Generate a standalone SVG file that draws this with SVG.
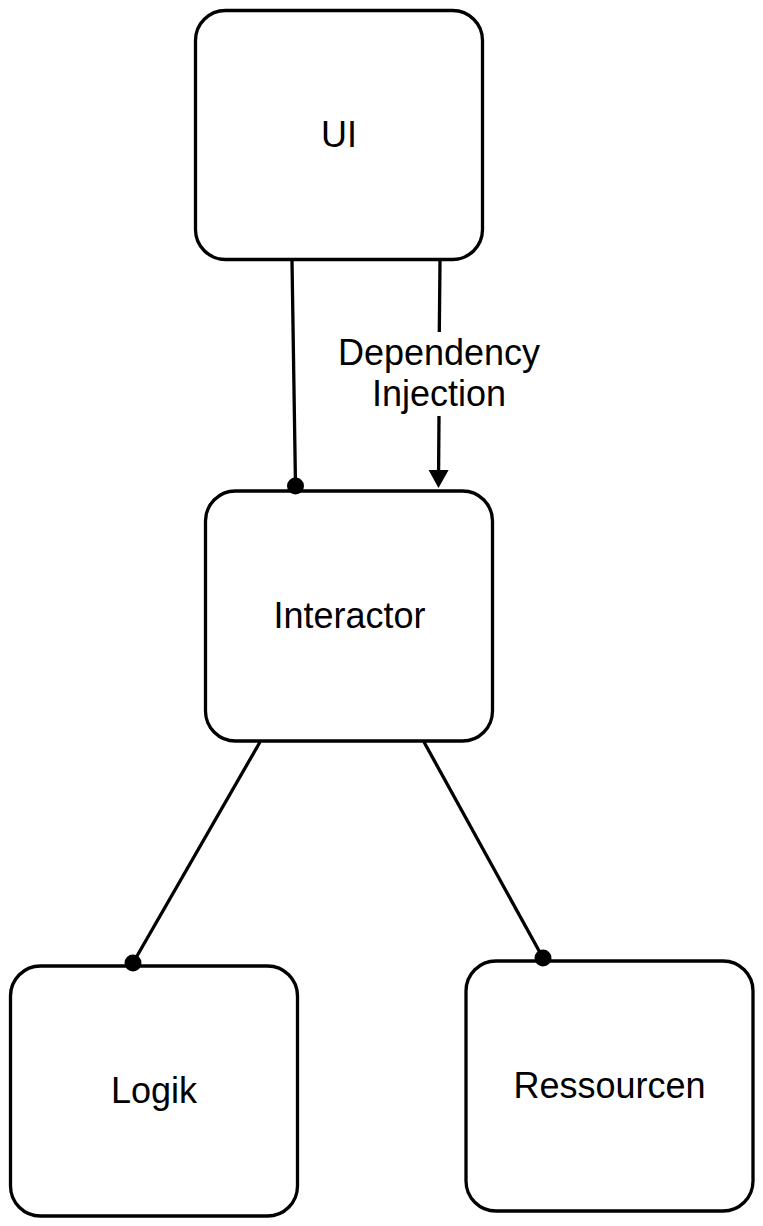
<svg xmlns="http://www.w3.org/2000/svg" width="763" height="1226" viewBox="0 0 763 1226">
<defs>
<style>
.box{fill:#fff;stroke:#000;stroke-width:3.3}
.lbl{font-family:"Liberation Sans",Arial,sans-serif;font-size:36px;fill:#000;text-anchor:middle}
.con{fill:none;stroke:#000;stroke-width:3.3}
.dot{fill:#000}
</style>
</defs>
<rect width="763" height="1226" fill="#fff"/>
<g id="ui"><rect class="box" x="195.5" y="10.5" width="287" height="249" rx="30"/><text class="lbl" x="339" y="147">UI</text></g>
<g id="interactor"><rect class="box" x="205.5" y="491" width="287" height="250" rx="30"/><text class="lbl" x="349.5" y="628">Interactor</text></g>
<g id="logik"><rect class="box" x="10.5" y="966" width="287" height="250" rx="30"/><text class="lbl" x="154" y="1103">Logik</text></g>
<g id="ressourcen"><rect class="box" x="466" y="961" width="287" height="250" rx="30"/><text class="lbl" x="609.5" y="1098">Ressourcen</text></g>
<g id="connectors">
<path class="con" d="M292 261 L295.5 486"/>
<circle class="dot" cx="295.5" cy="486" r="8.5"/>
<path class="con" d="M440 261 L439.3 332"/>
<path class="con" d="M439 416 L438.6 471"/>
<polygon points="428.6,470 448.6,470 438.5,488" fill="#000"/>
<text class="lbl" x="439" y="365">Dependency</text>
<text class="lbl" x="439" y="406">Injection</text>
<path class="con" d="M260 742 L133 963"/>
<circle class="dot" cx="133" cy="963" r="8.5"/>
<path class="con" d="M424 742 L543 958"/>
<circle class="dot" cx="543" cy="958" r="8.5"/>
</g>
</svg>
